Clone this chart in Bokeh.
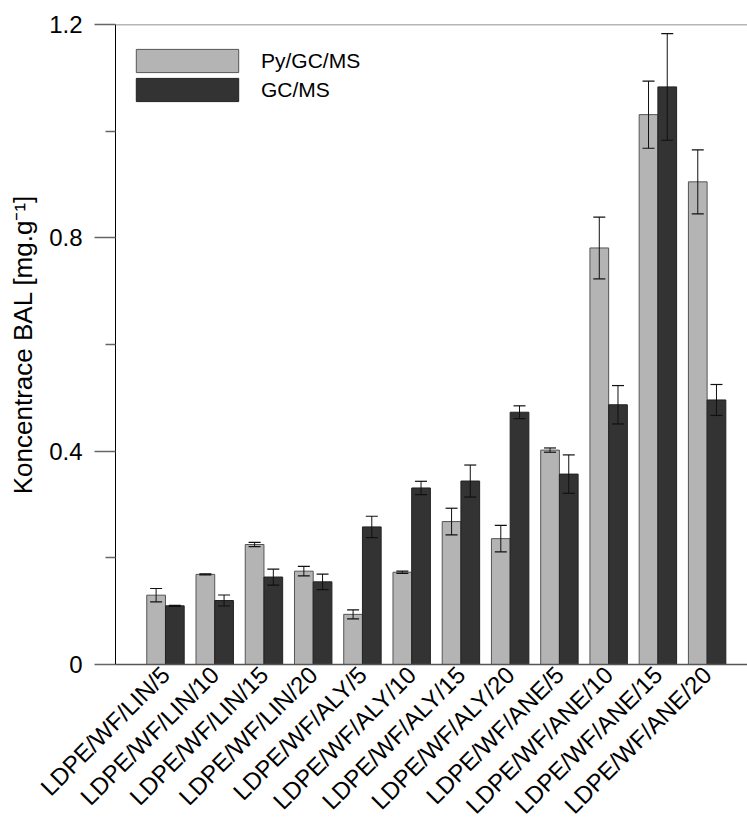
import math
from bokeh.plotting import figure
from bokeh.models import (ColumnDataSource, Range1d, FixedTicker, Whisker, TeeHead,
                          Span, Legend, LegendItem)
from bokeh.transform import dodge
from bokeh.embed import file_html
from bokeh.resources import INLINE

categories = ["LDPE/WF/LIN/5", "LDPE/WF/LIN/10", "LDPE/WF/LIN/15", "LDPE/WF/LIN/20",
              "LDPE/WF/ALY/5", "LDPE/WF/ALY/10", "LDPE/WF/ALY/15", "LDPE/WF/ALY/20",
              "LDPE/WF/ANE/5", "LDPE/WF/ANE/10", "LDPE/WF/ANE/15", "LDPE/WF/ANE/20"]
py_values = [0.130, 0.169, 0.225, 0.175, 0.094, 0.173, 0.268, 0.236, 0.402, 0.781, 1.031, 0.905]
py_errors = [0.0125, 0.001, 0.004, 0.009, 0.0084, 0.002, 0.025, 0.025, 0.004, 0.058, 0.063, 0.060]
gc_values = [0.110, 0.120, 0.164, 0.155, 0.258, 0.331, 0.344, 0.473, 0.357, 0.487, 1.083, 0.496]
gc_errors = [0.001, 0.0103, 0.015, 0.0146, 0.020, 0.0125, 0.030, 0.012, 0.036, 0.036, 0.100, 0.029]
series_names = ["Py/GC/MS", "GC/MS"]
y_ticks = [0, 0.4, 0.8, 1.2]
y_tick_labels = ["0", "0.4", "0.8", "1.2"]
y_minor_ticks = [0.2, 0.6, 1.0]
y_label = "Koncentrace BAL [mg.g\u207b\u00b9]"

FONT = "Liberation Sans"
LIGHT = "#b4b4b4"
DARK = "#333333"

idx = list(range(len(categories)))
source = ColumnDataSource(dict(
    idx=idx,
    py=py_values,
    py_up=[v + e for v, e in zip(py_values, py_errors)],
    py_lo=[v - e for v, e in zip(py_values, py_errors)],
    gc=gc_values,
    gc_up=[v + e for v, e in zip(gc_values, gc_errors)],
    gc_lo=[v - e for v, e in zip(gc_values, gc_errors)],
))

p = figure(width=747, height=831, x_range=Range1d(-1.015, 11.82), y_range=Range1d(0, 1.2),
           output_backend="svg", toolbar_location=None,
           min_border_left=115, min_border_right=0, min_border_top=24, min_border_bottom=165)
p.outline_line_color = None
p.grid.grid_line_color = None
p.background_fill_color = "white"

bw = 0.38
r_py = p.vbar(x=dodge("idx", -bw / 2), top="py", width=bw, source=source,
              fill_color=LIGHT, line_color="#555555", line_width=1)
r_gc = p.vbar(x=dodge("idx", bw / 2), top="gc", width=bw, source=source,
              fill_color=DARK, line_color="#222222", line_width=1)

for off, up, lo in [(-bw / 2, "py_up", "py_lo"), (bw / 2, "gc_up", "gc_lo")]:
    w = Whisker(base=dodge("idx", off), upper=up, lower=lo, source=source,
                line_color="#111111", line_width=1, level="overlay",
                upper_head=TeeHead(size=12, line_color="#111111", line_width=1.2),
                lower_head=TeeHead(size=12, line_color="#111111", line_width=1.2))
    p.add_layout(w)

p.add_layout(Span(location=1.2, dimension="width", line_color="#6e6e6e", line_width=1.5))

legend = Legend(items=[LegendItem(label=series_names[0], renderers=[r_py]),
                       LegendItem(label=series_names[1], renderers=[r_gc])],
                location=(8, 560), glyph_width=128, glyph_height=29, spacing=0,
                padding=0, margin=0, label_standoff=10, border_line_color=None,
                background_fill_alpha=0, label_text_font_size="21px",
                label_text_font=FONT, label_text_color="black")
p.add_layout(legend)

xa = p.xaxis[0]
xa.ticker = FixedTicker(ticks=idx)
xa.major_label_overrides = {i: c for i, c in zip(idx, categories)}
xa.major_label_orientation = math.pi / 4
xa.major_tick_line_color = None
xa.major_tick_out = 0
xa.major_tick_in = 0
xa.minor_tick_line_color = None
xa.axis_line_color = "#555555"
xa.axis_line_width = 1.5
xa.major_label_text_font = FONT
xa.major_label_text_font_size = "24px"
xa.major_label_text_color = "black"
xa.major_label_standoff = 6

ya = p.yaxis[0]
ya.ticker = FixedTicker(ticks=y_ticks, minor_ticks=y_minor_ticks)
ya.major_label_overrides = {t: l for t, l in zip(y_ticks, y_tick_labels)}
ya.major_tick_out = 21
ya.major_tick_in = 0
ya.minor_tick_out = 10
ya.minor_tick_in = 0
ya.major_tick_line_color = "#666666"
ya.major_tick_line_width = 1.5
ya.minor_tick_line_color = "#666666"
ya.minor_tick_line_width = 1.5
ya.axis_line_color = "black"
ya.axis_line_width = 1
ya.major_label_text_font = FONT
ya.major_label_text_font_size = "24px"
ya.major_label_text_color = "black"
ya.major_label_standoff = 12
ya.axis_label = y_label
ya.axis_label_text_font = FONT
ya.axis_label_text_font_size = "26px"
ya.axis_label_text_font_style = "normal"
ya.axis_label_text_color = "black"
ya.axis_label_standoff = 8

open("out.html", "w").write(file_html(p, INLINE))
